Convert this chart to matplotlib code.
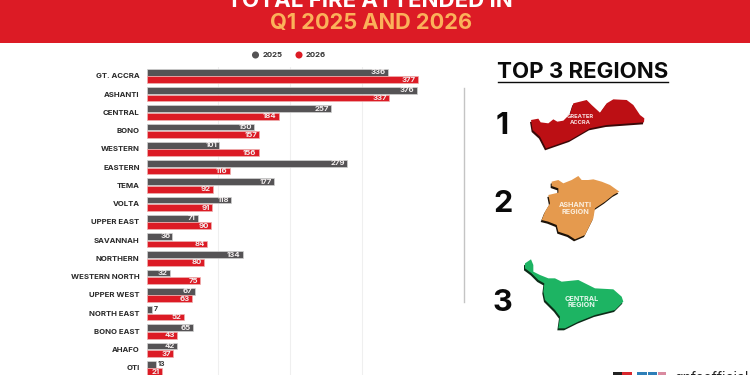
import matplotlib
matplotlib.use('Agg')
import matplotlib.pyplot as plt
from matplotlib.patches import Polygon, Rectangle

regions = ['GT. ACCRA', 'ASHANTI', 'CENTRAL', 'BONO', 'WESTERN', 'EASTERN', 'TEMA', 'VOLTA',
           'UPPER EAST', 'SAVANNAH', 'NORTHERN', 'WESTERN NORTH', 'UPPER WEST', 'NORTH EAST',
           'BONO EAST', 'AHAFO', 'OTI']
fires_2025 = [336, 376, 257, 150, 101, 279, 177, 118, 71, 36, 134, 32, 67, 7, 65, 42, 13]
fires_2026 = [377, 337, 184, 157, 156, 116, 92, 91, 90, 84, 80, 75, 63, 52, 43, 37, 21]

GREY = '#555355'
RED = '#DC1B25'
FONT = 'Inter'

W, H = 750, 375

fig = plt.figure(figsize=(7.5, 3.75), dpi=100, facecolor='white')

# ── bar chart, placed by pixel box ──
left, right, top, bottom = 146.5, 434.1, 66.875, 375
ax = fig.add_axes([left / W, 1 - bottom / H, (right - left) / W, (bottom - top) / H])
ax.set_xlim(0, 400)
ax.set_ylim(16.384, -0.5)
for s in ax.spines.values():
    s.set_visible(False)
ax.set_xticks([100, 200, 300])
ax.set_xticklabels([])
ax.tick_params(axis='x', length=0)
ax.grid(axis='x', color='#efefef', linewidth=0.8)
ax.set_axisbelow(True)

ys = list(range(len(regions)))
h = 0.37
off = 0.21
ax.barh([y - off for y in ys], fires_2025, height=h, color=GREY, edgecolor='#d2d2d2', linewidth=0.5)
ax.barh([y + off for y in ys], fires_2026, height=h, color=RED, edgecolor='#eeb0b0', linewidth=0.5)

ax.set_yticks(ys)
ax.set_yticklabels(regions, fontsize=5.6, fontweight='bold', family=FONT, color='#2a2a2a')
ax.tick_params(axis='y', length=0, pad=5)


def bar_label(v, y):
    if v < 20:
        ax.text(v + 3, y, str(v), ha='left', va='center', fontsize=5, fontweight='bold',
                family=FONT, color='#333333')
    else:
        ax.text(v - 3, y, str(v), ha='right', va='center', fontsize=5.6, fontweight='bold',
                family=FONT, color='#f4f0f0')


for y, a, b in zip(ys, fires_2025, fires_2026):
    bar_label(a, y - off)
    bar_label(b, y + off)

# ── everything around the chart, in pixel coordinates ──
ov = fig.add_axes([0, 0, 1, 1], facecolor='none')
ov.set_xlim(0, W)
ov.set_ylim(H, 0)
ov.axis('off')

ov.add_patch(Rectangle((0, 0), W, 42.5, color=RED, lw=0))
ov.text(370, 1, 'TOTAL FIRE ATTENDED IN', ha='center', va='center', fontsize=16,
        fontweight='bold', family=FONT, color='white')
ov.text(371, 23, 'Q1 2025 AND 2026', ha='center', va='center', fontsize=15.7,
        fontweight='bold', family=FONT, color='#FBB15A')

# legend
ov.scatter([255.5, 299], [55, 55], s=26, color=[GREY, RED], linewidths=0)
ov.text(263, 55, '2025', ha='left', va='center', fontsize=5.6, fontweight='bold', family=FONT, color='#333333')
ov.text(306, 55, '2026', ha='left', va='center', fontsize=5.6, fontweight='bold', family=FONT, color='#333333')

# right panel
ov.plot([463.5, 463.5], [88, 302], color='#c4c4c4', lw=1)
ov.text(582.5, 72.5, 'TOP 3 REGIONS', ha='center', va='center', fontsize=16, fontweight='bold',
        family=FONT, color='#0a0a0a')
ov.plot([497.5, 668], [82.3, 82.3], color='#0a0a0a', lw=1)
for num, x, y in [('1', 502, 126), ('2', 503, 204), ('3', 502.5, 303)]:
    ov.text(x, y, num, ha='center', va='center', fontsize=22, fontweight='bold', family=FONT, color='#0a0a0a')


def map_shape(pts, ox, oy, color, shadow, dx=-1, dy=2):
    px = [(ox + x / 3, oy + y / 3) for x, y in pts]
    ov.add_patch(Polygon([(x + dx, y + dy) for x, y in px], color=shadow, lw=0))
    ov.add_patch(Polygon(px, color=color, lw=0))


accra = [(33, 90), (55, 86), (62, 97), (85, 100), (100, 88), (112, 95), (130, 92), (150, 72),
         (160, 40), (180, 35), (200, 30), (215, 45), (240, 68), (260, 40), (280, 28), (320, 30),
         (340, 45), (360, 75), (373, 85), (372, 97), (330, 100), (260, 105), (210, 115),
         (150, 150), (78, 175), (60, 140), (38, 120)]
ashanti = [(65, 35), (85, 30), (100, 40), (125, 30), (145, 18), (155, 30), (175, 30), (190, 28),
           (215, 35), (240, 45), (268, 65), (250, 75), (225, 95), (195, 115), (190, 145),
           (165, 195), (135, 208), (115, 195), (85, 185), (80, 165), (55, 155), (35, 150),
           (45, 125), (60, 100), (55, 75), (85, 68), (85, 55), (65, 48)]
central = [(30, 40), (48, 28), (55, 45), (55, 65), (75, 75), (100, 85), (120, 85), (140, 95),
           (190, 90), (210, 100), (240, 115), (295, 118), (320, 140), (325, 155), (300, 180),
           (240, 195), (190, 215), (150, 235), (130, 235), (135, 200), (120, 180), (90, 150),
           (85, 125), (88, 100), (70, 90), (50, 70), (30, 55)]
map_shape(accra, 520, 90, '#BC0F14', '#3a0808')
map_shape(ashanti, 530, 170, '#E59A4E', '#1c1208')
map_shape(central, 515, 250, '#1DB463', '#0c2c18')

ov.text(580, 119.5, 'GREATER\nACCRA', ha='center', va='center', fontsize=4.2, fontweight='bold',
        family=FONT, color='#f6dede', linespacing=1.05)
ov.text(575.5, 208.5, 'ASHANTI\nREGION', ha='center', va='center', fontsize=5.2, fontweight='bold',
        family=FONT, color='#fbeedd', linespacing=1.1)
ov.text(581.5, 302, 'CENTRAL\nREGION', ha='center', va='center', fontsize=5.2, fontweight='bold',
        family=FONT, color='#e4f7ec', linespacing=1.1)

# social strip, cut off by the bottom edge
for x, w, c in [(613, 9, '#222222'), (622, 10, '#D8262C'), (637, 10, '#2E7FB8'), (648, 9, '#2E7FB8'), (658, 8, '#d98aa0')]:
    ov.add_patch(Rectangle((x, 372), w, 4, color=c, lw=0))
ov.text(674, 378, 'gnfsofficial', ha='left', va='center', fontsize=10, family=FONT, color='#222222')

fig.savefig('out.png', dpi=100)
